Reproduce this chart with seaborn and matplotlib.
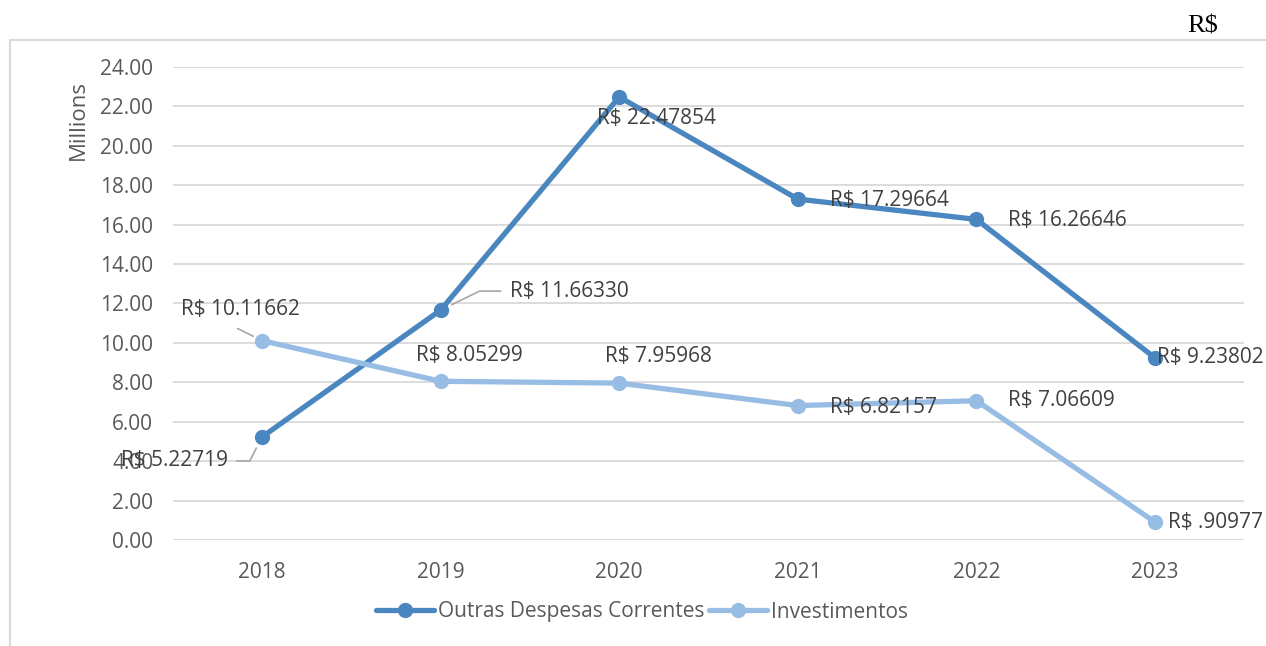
import matplotlib
matplotlib.use('Agg')
import matplotlib.pyplot as plt
import matplotlib.patches as patches
import numpy as np
import pandas as pd
import seaborn as sns

# values in millions of R$
years = [2018, 2019, 2020, 2021, 2022, 2023]
outras = [5.22719, 11.66330, 22.47854, 17.29664, 16.26646, 9.23802]
invest = [10.11662, 8.05299, 7.95968, 6.82157, 7.06609, 0.90977]
outras_labels = ["R$ 5.22719", "R$ 11.66330", "R$ 22.47854", "R$ 17.29664", "R$ 16.26646", "R$ 9.23802"]
invest_labels = ["R$ 10.11662", "R$ 8.05299", "R$ 7.95968", "R$ 6.82157", "R$ 7.06609", "R$ .90977"]
series_names = ["Outras Despesas Correntes", "Investimentos"]

df = pd.DataFrame({
    "ano": years * 2,
    "valor": outras + invest,
    "serie": [series_names[0]] * len(years) + [series_names[1]] * len(years),
})

sns.set_style("white")
plt.rcParams['font.family'] = ['Open Sans', 'DejaVu Sans']

dark = '#4a86c0'
light = '#98bde4'
txt = '#404040'
gray = '#595959'

fig = plt.figure(figsize=(12.66, 6.46), dpi=100)
ax = fig.add_axes([0.1364, 0.1641, 0.8465, 0.7322])

sns.lineplot(data=df, x="ano", y="valor", hue="serie", palette=[dark, light],
             marker='o', markersize=11, markeredgewidth=0, linewidth=3.8,
             legend=False, ax=ax, zorder=3)
for ln in ax.get_lines():
    ln.set_clip_on(False)

ax.set_xlim(years[0] - 0.5, years[-1] + 0.5)
ax.set_ylim(0, 24)
ax.set_yticks(np.arange(0, 25, 2))
ax.set_yticklabels([f"{v:.2f}" for v in np.arange(0, 25, 2)])
ax.set_xticks(years)
ax.set_xticklabels([str(y) for y in years])
ax.set_xlabel("")
ax.set_ylabel("")
ax.yaxis.grid(True, color='#d9d9d9', linewidth=1.3, zorder=0)
ax.set_axisbelow(True)
for s in ax.spines.values():
    s.set_visible(False)
ax.tick_params(axis='both', length=0, labelsize=15, labelcolor=gray)
ax.tick_params(axis='y', pad=14)
ax.tick_params(axis='x', pad=16)

# data labels: (dx, dy) in pixels, alignment, leader connection
outras_pos = [(-34, -24, 'right', 'angle,angleA=0,angleB=63,rad=0'),
              (69, 19, 'left', 'angle,angleA=0,angleB=26,rad=0'),
              (37, -22, 'center', None),
              (32, -1, 'left', None),
              (32, -1, 'left', None),
              (2, 0, 'left', None)]
invest_pos = [(-22, 31, 'center', 'arc3'),
              (29, 26, 'center', None),
              (39, 27, 'center', None),
              (32, -2, 'left', None),
              (32, 0, 'left', None),
              (13, 0, 'left', None)]

for vals, labels, pos in [(outras, outras_labels, outras_pos), (invest, invest_labels, invest_pos)]:
    for x, y, lab, (dx, dy, ha, conn) in zip(years, vals, labels, pos):
        kw = {}
        if conn == 'arc3':
            kw['arrowprops'] = dict(arrowstyle='-', color='#a6a6a6', lw=1.2,
                                    connectionstyle=conn, relpos=(0.48, -0.4),
                                    patchA=None, shrinkA=0, shrinkB=7)
        elif conn is not None:
            kw['arrowprops'] = dict(arrowstyle='-', color='#a6a6a6', lw=1.2,
                                    connectionstyle=conn, shrinkA=4, shrinkB=9)
        ax.annotate(lab, (x, y), xytext=(dx, dy), textcoords='offset pixels',
                    ha=ha, va='center', fontsize=15, color=txt, zorder=5,
                    annotation_clip=False, **kw)

handles = ax.get_lines()[:2]
fig.legend(handles, series_names, loc='center', bbox_to_anchor=(642 / 1266, 1 - 612 / 646),
           ncol=2, frameon=False, fontsize=15, handlelength=2.8, handletextpad=0.2,
           columnspacing=0.2, labelcolor=gray)

fig.text(78 / 1266, 1 - 120 / 646, "Millions", rotation=90, ha='center', va='center',
         fontsize=16, color=gray)
fig.text(1203 / 1266, 1 - 27 / 646, "R$", ha='center', va='center', fontsize=19,
         family='Liberation Serif', color='black')

fig.patches.append(patches.Rectangle((10 / 1266, -0.1), 1.2, 1.1 - 40 / 646,
                                     transform=fig.transFigure, fill=False,
                                     edgecolor='#d9d9d9', linewidth=1.5))

fig.savefig('out.png', dpi=100, facecolor='white')
